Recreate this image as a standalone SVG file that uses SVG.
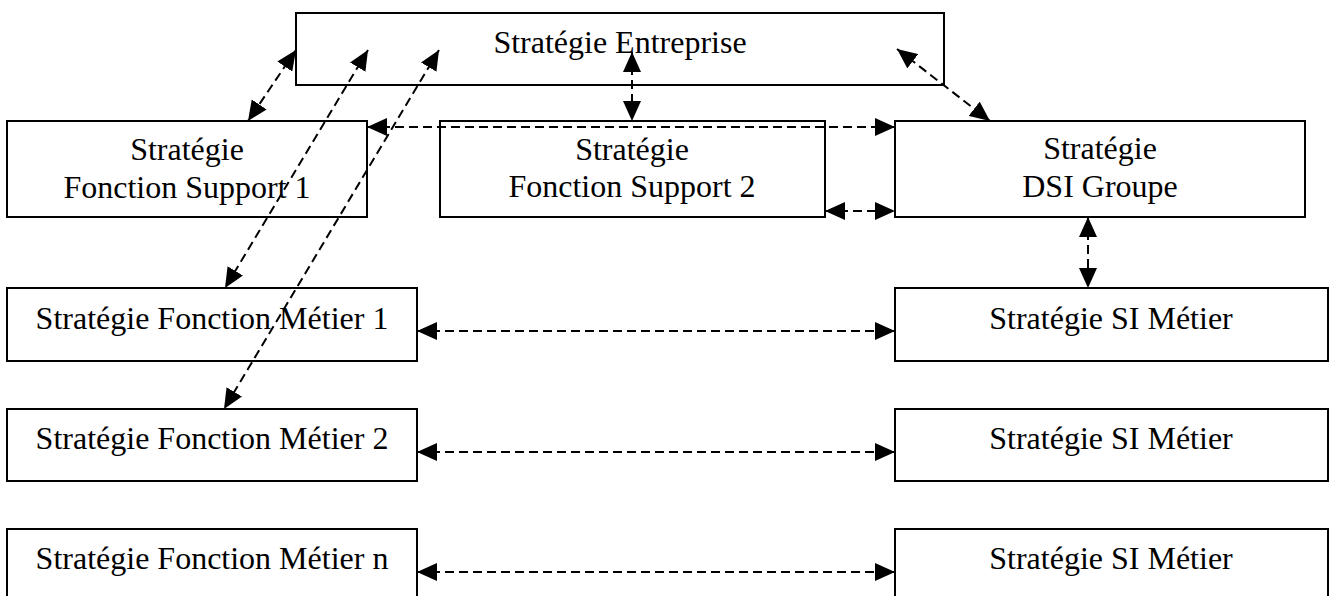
<svg xmlns="http://www.w3.org/2000/svg" width="1331" height="596" viewBox="0 0 1331 596">
<style>
.box{fill:#fff;stroke:#000;stroke-width:2}
.t{font-family:"Liberation Serif","Times New Roman",serif;font-size:32px;fill:#000;text-anchor:middle}
.c{fill:none;stroke:#000;stroke-width:2;stroke-dasharray:9 5;marker-start:url(#ah);marker-end:url(#ah)}
</style>
<defs>
<marker id="ah" markerUnits="userSpaceOnUse" viewBox="0 0 20 18" markerWidth="20" markerHeight="18" refX="20" refY="9" orient="auto-start-reverse">
<path d="M0,0 L20,9 L0,18 z" fill="#000"/>
</marker>
</defs>
<rect width="1331" height="596" fill="#fff"/>
<g id="entreprise"><rect class="box" x="296" y="13" width="648" height="72"/><text class="t" x="620" y="53">Stratégie Entreprise</text></g>
<g id="support1"><rect class="box" x="7" y="121" width="360" height="96"/><text class="t" x="187" y="160">Stratégie</text><text class="t" x="187" y="198">Fonction Support 1</text></g>
<g id="support2"><rect class="box" x="440" y="121" width="385" height="96"/><text class="t" x="632" y="160">Stratégie</text><text class="t" x="632" y="197">Fonction Support 2</text></g>
<g id="dsi"><rect class="box" x="895" y="121" width="410" height="96"/><text class="t" x="1100" y="159">Stratégie</text><text class="t" x="1100" y="197">DSI Groupe</text></g>
<g id="metier1"><rect class="box" x="7" y="288" width="410" height="73"/><text class="t" x="212" y="329">Stratégie Fonction Métier 1</text></g>
<g id="metier2"><rect class="box" x="7" y="409" width="410" height="72"/><text class="t" x="212" y="449">Stratégie Fonction Métier 2</text></g>
<g id="metiern"><rect class="box" x="7" y="529" width="410" height="73"/><text class="t" x="212" y="569">Stratégie Fonction Métier n</text></g>
<g id="si1"><rect class="box" x="895" y="288" width="433" height="73"/><text class="t" x="1111" y="329">Stratégie SI Métier</text></g>
<g id="si2"><rect class="box" x="895" y="409" width="433" height="72"/><text class="t" x="1111" y="449">Stratégie SI Métier</text></g>
<g id="sin"><rect class="box" x="895" y="529" width="433" height="73"/><text class="t" x="1111" y="569">Stratégie SI Métier</text></g>
<g id="connectors">
<line class="c" x1="296" y1="50" x2="248" y2="121"/>
<line class="c" x1="368" y1="50" x2="225" y2="288"/>
<line class="c" x1="439" y1="50" x2="224" y2="409"/>
<line class="c" x1="632" y1="52" x2="632" y2="121"/>
<line class="c" x1="897" y1="49" x2="990" y2="121"/>
<line class="c" x1="367" y1="127" x2="895" y2="127"/>
<line class="c" x1="825" y1="211" x2="895" y2="211"/>
<line class="c" x1="1088" y1="217" x2="1088" y2="288"/>
<line class="c" x1="417" y1="331" x2="895" y2="331"/>
<line class="c" x1="417" y1="452" x2="895" y2="452"/>
<line class="c" x1="417" y1="572" x2="895" y2="572"/>
</g>
</svg>
